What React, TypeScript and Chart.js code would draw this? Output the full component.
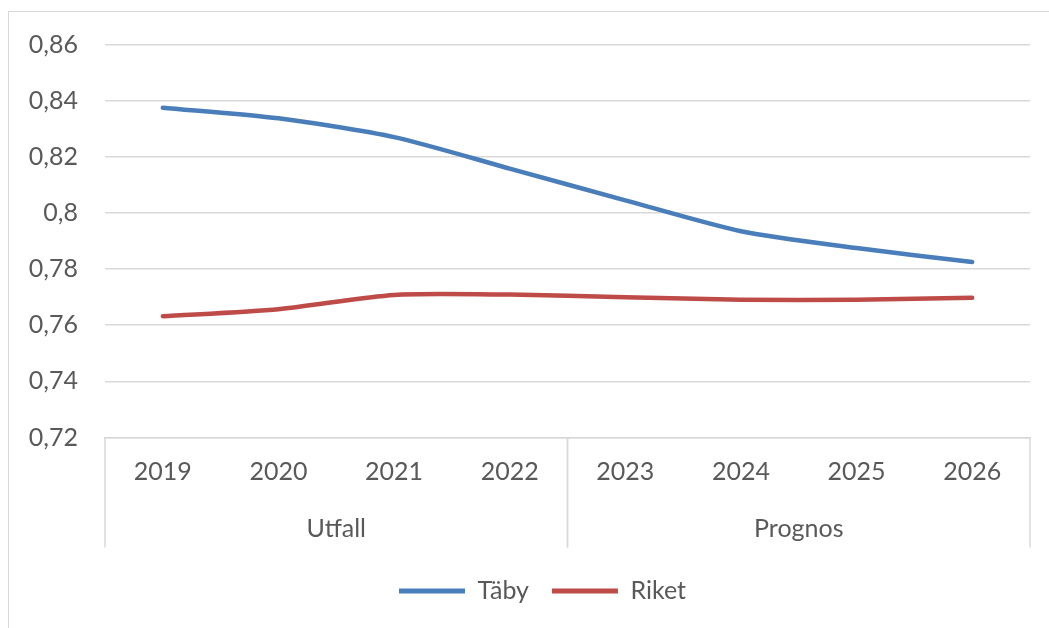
import React, { useEffect, useRef } from "react";
import { Chart, registerables } from "chart.js";

Chart.register(...registerables);

const years = ["2019", "2020", "2021", "2022", "2023", "2024", "2025", "2026"];
const groupLabels = ["Utfall", "Prognos"];
const groupSizes = [4, 4];
const tabyValues = [0.8375, 0.8337, 0.827, 0.8158, 0.8045, 0.7935, 0.7875, 0.7825];
const riketValues = [0.7632, 0.7657, 0.7708, 0.7709, 0.77, 0.7691, 0.7691, 0.7698];
const seriesNames = ["Täby", "Riket"];
const yMin = 0.72;
const yMax = 0.86;
const yStep = 0.02;

const FONT = "Lato, 'Open Sans', sans-serif";
const FSIZE = 25;
const TEXT = "#595959";
const GRID = "#d9d9d9";
const BLUE = "#4A7EBB";
const RED = "#BE4B48";

const groupPlugin = {
  id: "groupAxis",
  afterLayout(chart: any) {
    if (chart.legend) {
      chart.legend.left += 23;
      chart.legend.right += 23;
    }
  },
  afterDraw(chart: any) {
    const { ctx, chartArea, scales } = chart;
    const x = scales.x;
    const half = (x.getPixelForValue(1) - x.getPixelForValue(0)) / 2;
    const top = chartArea.bottom;
    const bottom = chartArea.bottom + 110;
    ctx.save();
    ctx.strokeStyle = GRID;
    ctx.lineWidth = 1.5;
    ctx.fillStyle = TEXT;
    ctx.font = `${FSIZE}px ${FONT}`;
    ctx.textAlign = "center";
    ctx.textBaseline = "middle";
    let start = 0;
    groupLabels.forEach((g, i) => {
      const left = x.getPixelForValue(start) - half;
      const right = x.getPixelForValue(start + groupSizes[i] - 1) + half;
      ctx.beginPath();
      ctx.moveTo(left, top);
      ctx.lineTo(left, bottom);
      ctx.moveTo(right, top);
      ctx.lineTo(right, bottom);
      ctx.stroke();
      ctx.fillText(g, (left + right) / 2, top + 91);
      start += groupSizes[i];
    });
    ctx.restore();
  },
};

export default function App() {
  const ref = useRef<HTMLCanvasElement | null>(null);

  useEffect(() => {
    if (!ref.current) return;
    const chart = new Chart(ref.current, {
      type: "line",
      data: {
        labels: years,
        datasets: [
          {
            label: seriesNames[0],
            data: tabyValues,
            borderColor: BLUE,
            backgroundColor: BLUE,
            borderWidth: 4.5,
            pointRadius: 0,
            tension: 0.25,
            borderCapStyle: "round",
          },
          {
            label: seriesNames[1],
            data: riketValues,
            borderColor: RED,
            backgroundColor: RED,
            borderWidth: 4.5,
            pointRadius: 0,
            tension: 0.25,
            borderCapStyle: "round",
          },
        ],
      },
      options: {
        responsive: false,
        animation: false,
        layout: { padding: { top: 32.5, right: 18, left: 0, bottom: 13.5 } },
        plugins: {
          tooltip: { enabled: false },
          legend: {
            position: "bottom",
            labels: {
              color: TEXT,
              font: { family: FONT, size: FSIZE },
              boxWidth: 66,
              boxHeight: 5,
              padding: 23,
              generateLabels: (c: any) =>
                c.data.datasets.map((d: any, i: number) => ({
                  text: d.label,
                  fillStyle: d.borderColor,
                  strokeStyle: d.borderColor,
                  lineWidth: 0,
                  fontColor: TEXT,
                  datasetIndex: i,
                  hidden: false,
                })),
            },
          },
        },
        scales: {
          x: {
            offset: true,
            grid: { display: false, drawTicks: false },
            border: { display: true, color: GRID, width: 1.5 },
            ticks: {
              color: TEXT,
              font: { family: FONT, size: FSIZE },
              padding: 19,
              maxRotation: 0,
              autoSkip: false,
            },
            afterFit: (s: any) => {
              s.height = 118;
              s.paddingLeft = 0;
              s.paddingRight = 0;
            },
          },
          y: {
            min: yMin,
            max: yMax,
            grid: { color: GRID, lineWidth: 1.5, drawTicks: false },
            border: { display: false },
            ticks: {
              stepSize: yStep,
              color: TEXT,
              font: { family: FONT, size: FSIZE },
              padding: 27,
              callback: (v: any) =>
                Number(Number(v).toFixed(2)).toString().replace(".", ","),
            },
            afterFit: (s: any) => {
              s.width = 96;
              s.paddingTop = 0;
              s.paddingBottom = 0;
            },
          },
        },
      },
      plugins: [groupPlugin],
    });
    return () => chart.destroy();
  }, []);

  return (
    <div
      style={{
        position: "absolute",
        left: 8,
        top: 11,
        width: 1041,
        height: 617,
        borderTop: `1.5px solid ${GRID}`,
        borderLeft: `1.5px solid ${GRID}`,
        background: "#fff",
        boxSizing: "border-box",
      }}
    >
      <canvas ref={ref} width={1039} height={615} style={{ display: "block" }} />
    </div>
  );
}
